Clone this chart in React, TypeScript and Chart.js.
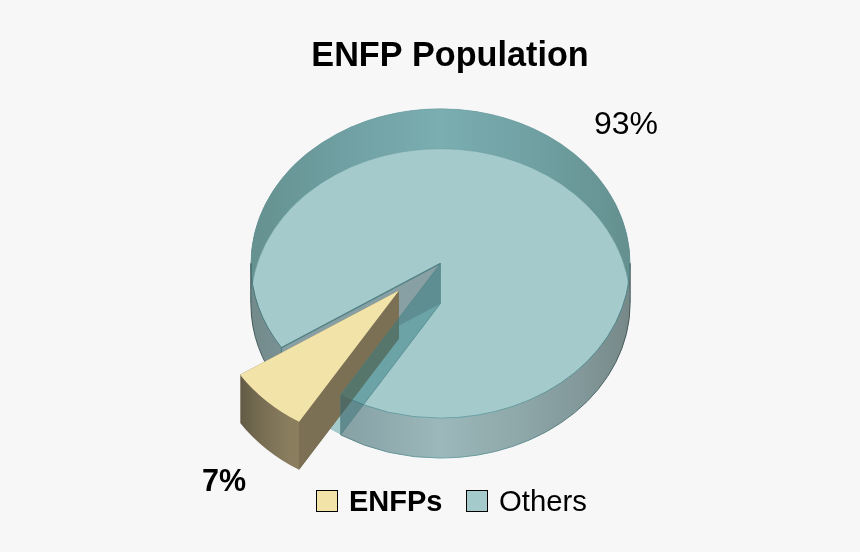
import React, { useEffect, useRef } from "react";
import { Chart, registerables } from "chart.js";

Chart.register(...registerables);

const categories = ["ENFPs", "Others"];
const values = [7, 93];
const colours = ["#f2e3a9", "#a5cacc"];
const chartTitle = "ENFP Population";

const FONT = "'Liberation Sans', Arial, sans-serif";
const BG = "#f7f7f7";
const SQUASH = 155 / 190;
const DEPTH = 40;
const PIE_SHIFT = -9.5;
const EXPLODE_X = -41.5;
const EXPLODE_Y = 27;
const EXPLODE_DEPTH = 48;

type Pt = { x: number; y: number };

function pointAt(el: any, angle: number, dx = 0, dy = 0): Pt {
  return {
    x: el.x + dx + el.outerRadius * Math.cos(angle),
    y: el.y + dy + el.outerRadius * SQUASH * Math.sin(angle),
  };
}

function drawEl(ctx: CanvasRenderingContext2D, el: any, fill: any, tx = 0, ty = 0) {
  const saved = el.options;
  el.options = { ...saved, backgroundColor: fill };
  ctx.save();
  ctx.translate(el.x + tx, el.y + ty);
  ctx.scale(1, SQUASH);
  ctx.translate(-el.x, -el.y);
  el.draw(ctx);
  ctx.restore();
  el.options = saved;
}

function sectorPath(ctx: CanvasRenderingContext2D, el: any, dy: number) {
  ctx.beginPath();
  ctx.moveTo(el.x, el.y + dy);
  ctx.ellipse(el.x, el.y + dy, el.outerRadius, el.outerRadius * SQUASH, 0, el.startAngle, el.endAngle);
  ctx.closePath();
}

function polygon(ctx: CanvasRenderingContext2D, pts: Pt[]) {
  ctx.beginPath();
  pts.forEach((p, i) => (i ? ctx.lineTo(p.x, p.y) : ctx.moveTo(p.x, p.y)));
  ctx.closePath();
}

function hGradient(ctx: CanvasRenderingContext2D, x0: number, x1: number, stops: [number, string][]) {
  const g = ctx.createLinearGradient(x0, 0, x1, 0);
  stops.forEach(([o, c]) => g.addColorStop(o, c));
  return g;
}

const pie3d = {
  id: "pie3d",
  beforeDatasetsDraw(chart: any) {
    const ctx: CanvasRenderingContext2D = chart.ctx;
    const [wedge, rest] = chart.getDatasetMeta(0).data as any[];
    const { x: cx, y: cy, outerRadius: r } = rest;
    ctx.save();
    ctx.translate(PIE_SHIFT, 0);

    const sideFill = hGradient(ctx, cx - r, cx + r, [
      [0, "#738a8b"], [0.15, "#7f979a"], [0.3, "#8ba6aa"], [0.5, "#9cb8ba"],
      [0.7, "#8fa8aa"], [0.87, "#82989a"], [1, "#778887"],
    ]);
    const backFill = hGradient(ctx, cx - r, cx + r, [
      [0, "#65918f"], [0.25, "#70a0a3"], [0.5, "#7aaeb1"], [0.75, "#70a0a2"], [1, "#64908f"],
    ]);
    const bottomRim = hGradient(ctx, cx - r, cx + r, [
      [0, "#46585a"], [0.25, "#5b8488"], [0.5, "#6fa5a9"], [0.75, "#5f8a8d"], [1, "#46585a"],
    ]);
    const lensRim = hGradient(ctx, cx - r, cx + r, [
      [0, "#47767a"], [0.25, "#5f9296"], [0.5, "#6ea6aa"], [0.75, "#659a9e"], [1, "#4d8286"],
    ]);
    const frontAngle = rest.endAngle - Math.PI * 2;

    // outer wall of the large slice, and its back band
    for (let dy = DEPTH; dy >= 0; dy--) drawEl(ctx, rest, sideFill, 0, dy);
    drawEl(ctx, rest, backFill);

    // vertical dark rims at the widest points
    ctx.strokeStyle = "#34474a";
    ctx.lineWidth = 1;
    [Math.PI, Math.PI * 2].forEach((a) => {
      const p = pointAt(rest, a);
      ctx.beginPath();
      ctx.moveTo(p.x, p.y);
      ctx.lineTo(p.x, p.y + DEPTH);
      ctx.stroke();
    });

    // outer edge of the bottom
    ctx.strokeStyle = bottomRim;
    ctx.lineWidth = 1;
    ctx.beginPath();
    ctx.ellipse(cx, cy + DEPTH, r, r * SQUASH, 0, 0, frontAngle);
    ctx.stroke();
    ctx.beginPath();
    ctx.ellipse(cx, cy + DEPTH, r, r * SQUASH, 0, rest.startAngle, Math.PI);
    ctx.stroke();

    // face seen from above: where top and bottom discs overlap
    ctx.save();
    sectorPath(ctx, rest, 0);
    ctx.clip();
    drawEl(ctx, rest, colours[1], 0, DEPTH);
    ctx.restore();

    // floor visible through the gap
    ctx.save();
    sectorPath(ctx, wedge, DEPTH);
    ctx.clip();
    drawEl(ctx, wedge, colours[1], 0, DEPTH);
    ctx.restore();

    // rims
    ctx.strokeStyle = lensRim;
    ctx.beginPath();
    ctx.ellipse(cx, cy, r, r * SQUASH, 0, 0, frontAngle);
    ctx.stroke();
    ctx.beginPath();
    ctx.ellipse(cx, cy, r, r * SQUASH, 0, rest.startAngle, Math.PI);
    ctx.stroke();
    ctx.strokeStyle = "rgba(100,150,155,0.45)";
    ctx.beginPath();
    ctx.ellipse(cx, cy + DEPTH, r, r * SQUASH, 0, Math.PI, Math.PI * 2);
    ctx.stroke();
    ctx.beginPath();
    ctx.ellipse(cx, cy, r, r * SQUASH, 0, Math.PI, Math.PI * 2);
    ctx.stroke();

    const apexTop = { x: cx, y: cy };
    const apexBot = { x: cx, y: cy + DEPTH };
    const backTop = pointAt(rest, rest.startAngle);
    const backBot = pointAt(rest, rest.startAngle, 0, DEPTH);
    const frontTop = pointAt(rest, rest.endAngle);
    const frontBot = pointAt(rest, rest.endAngle, 0, DEPTH);

    // back cut face
    polygon(ctx, [apexTop, backTop, backBot, apexBot]);
    ctx.fillStyle = "#88a0a3";
    ctx.fill();
    ctx.strokeStyle = "#4f8085";
    ctx.lineWidth = 1.2;
    ctx.beginPath();
    ctx.moveTo(apexTop.x, apexTop.y);
    ctx.lineTo(backTop.x, backTop.y);
    ctx.lineTo(backBot.x, backBot.y);
    ctx.stroke();

    // the pulled-out slice
    const wl = pointAt(wedge, wedge.endAngle);
    const wr = pointAt(wedge, wedge.startAngle);
    const wedgeSide = hGradient(ctx, wl.x, wr.x, [
      [0, "#625a45"], [0.35, "#776d53"], [0.85, "#8a7e5f"], [1, "#8a7e5f"],
    ]);
    for (let dy = EXPLODE_DEPTH; dy >= 0; dy--) drawEl(ctx, wedge, wedgeSide, EXPLODE_X, EXPLODE_Y + dy);
    const shift = (p: Pt, d: number) => ({ x: p.x + EXPLODE_X, y: p.y + EXPLODE_Y + d });
    polygon(ctx, [
      shift(apexTop, 0), shift(wr, 0), shift(wr, EXPLODE_DEPTH), shift(apexTop, EXPLODE_DEPTH),
    ]);
    ctx.fillStyle = "#7b7054";
    ctx.fill();
    drawEl(ctx, wedge, colours[0], EXPLODE_X, EXPLODE_Y);

    // translucent front cut face, on top of everything
    ctx.save();
    polygon(ctx, [apexTop, apexBot, frontBot, frontTop]);
    ctx.clip();
    ctx.fillStyle = "rgba(52,124,130,0.5)";
    ctx.fillRect(-40, 0, chart.width + 80, chart.height);
    ctx.beginPath();
    ctx.rect(-40, 0, chart.width + 80, chart.height);
    ctx.ellipse(cx, cy, r, r * SQUASH, 0, 0, Math.PI * 2);
    ctx.fillStyle = "rgba(70,75,80,0.28)";
    ctx.fill("evenodd");
    ctx.restore();
    polygon(ctx, [apexTop, apexBot, frontBot, frontTop]);
    ctx.strokeStyle = "rgba(70,125,130,0.5)";
    ctx.lineWidth = 1;
    ctx.stroke();

    ctx.restore();
    return false;
  },
  afterDraw(chart: any) {
    const ctx: CanvasRenderingContext2D = chart.ctx;
    const total = values.reduce((a, b) => a + b, 0);
    ctx.save();
    ctx.fillStyle = "#000";
    ctx.textBaseline = "middle";
    ctx.textAlign = "center";
    ctx.font = `bold 30.5px ${FONT}`;
    ctx.fillText(`${Math.round((values[0] / total) * 100)}%`, 224, 483);
    ctx.font = `32px ${FONT}`;
    ctx.fillText(`${Math.round((values[1] / total) * 100)}%`, 626, 125);

    // legend
    ctx.textAlign = "left";
    const items = [
      { box: 316, text: 349, font: `bold 29px ${FONT}` },
      { box: 466, text: 499, font: `29.3px ${FONT}` },
    ];
    items.forEach((it, i) => {
      ctx.fillStyle = colours[i];
      ctx.fillRect(it.box + 0.5, 490.5, 21, 21);
      ctx.strokeStyle = "#000";
      ctx.lineWidth = 1;
      ctx.strokeRect(it.box + 0.5, 490.5, 21, 21);
      ctx.fillStyle = "#000";
      ctx.font = it.font;
      ctx.fillText(categories[i], it.text, 503);
    });
    ctx.restore();
  },
};

export default function App() {
  const ref = useRef<HTMLCanvasElement>(null);
  useEffect(() => {
    document.body.style.margin = "0";
    document.body.style.background = BG;
    const chart = new Chart(ref.current!, {
      type: "pie",
      data: {
        labels: categories,
        datasets: [{ data: values, backgroundColor: colours, borderWidth: 0 }],
      },
      options: {
        responsive: false,
        animation: false,
        rotation: 211.8,
        layout: { padding: { left: 40, right: 0, top: 0, bottom: 99 } },
        plugins: {
          title: {
            display: true,
            text: chartTitle,
            color: "#000",
            font: { family: FONT, size: 34.2, weight: "bold", lineHeight: 1 },
            padding: { top: 39.6, bottom: 0 },
          },
          legend: { display: false },
          tooltip: { enabled: false },
        },
      },
      plugins: [pie3d],
    } as any);
    return () => chart.destroy();
  }, []);
  return (
    <canvas
      ref={ref}
      width={860}
      height={552}
      style={{ display: "block", width: 860, height: 552, background: BG }}
    />
  );
}
